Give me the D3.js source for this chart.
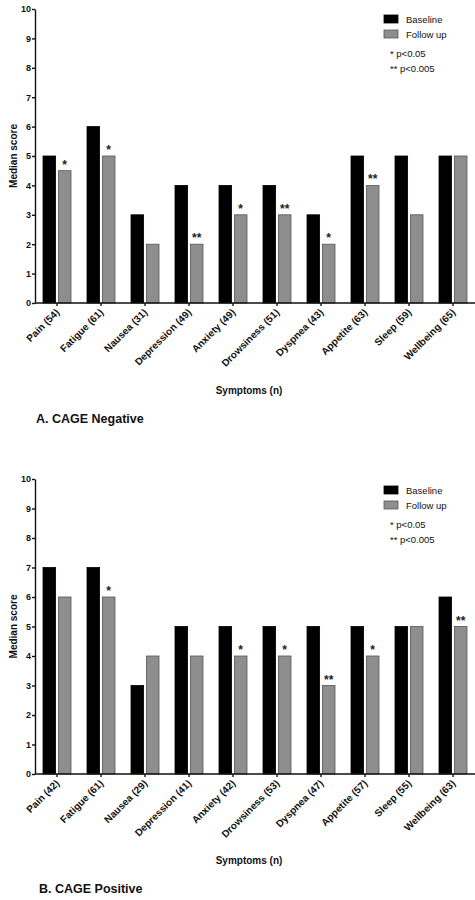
<!DOCTYPE html>
<html><head><meta charset="utf-8">
<script src="https://cdn.jsdelivr.net/npm/d3@7"></script>
<style>body{margin:0;background:#fff}svg{display:block;font-family:"Liberation Sans",Arial,sans-serif}</style>
</head><body>
<script>
const symptoms = ["Pain","Fatigue","Nausea","Depression","Anxiety","Drowsiness","Dyspnea","Appetite","Sleep","Wellbeing"];
const negN = [54,61,31,49,49,51,43,63,59,65];
const negBaseline = [5,6,3,4,4,4,3,5,5,5];
const negFollow = [4.5,5,2,2,3,3,2,4,3,5];
const negSig = ["*","*","","**","*","**","*","**","",""];
const posN = [42,61,29,41,42,53,47,57,55,63];
const posBaseline = [7,7,3,5,5,5,5,5,5,6];
const posFollow = [6,6,4,4,4,4,3,4,5,5];
const posSig = ["","*","","","*","*","**","*","","**"];
const yTicks = [0,1,2,3,4,5,6,7,8,9,10];
const seriesNames = ["Baseline","Follow up"];
const sigLegend = ["* p<0.05","** p<0.005"];

const W = 475, H = 900;
const svg = d3.select("body").append("svg").attr("width", W).attr("height", H);

function chart(top, bottom, nArr, base, foll, sig, title, legendTop, titleY, xTitleY) {
  const g = svg.append("g");
  const cats = symptoms.map((s,i) => `${s} (${nArr[i]})`);
  const x = d3.scaleBand().domain(cats).range([35, 475]).paddingInner(0).paddingOuter(0);
  const inner = d3.scaleBand().domain(seriesNames).range([8, 36]).paddingInner(0.18);
  const y = d3.scaleLinear().domain([0,10]).range([bottom, top]);

  const data = cats.map((c,i) => ({c, vals:[base[i], foll[i]], sig: sig[i]}));
  const grp = g.selectAll(".cat").data(data).join("g").attr("transform", d => `translate(${x(d.c)},0)`);
  grp.selectAll("rect").data(d => d.vals.map((v,j) => ({v, s: seriesNames[j]}))).join("rect")
    .attr("x", d => inner(d.s)).attr("width", inner.bandwidth())
    .attr("y", d => y(d.v)).attr("height", d => y(0) - y(d.v))
    .attr("fill", d => d.s === "Baseline" ? "#000" : "#8e8e8e")
    .attr("stroke", d => d.s === "Baseline" ? "#000" : "#555").attr("stroke-width", 0.8);
  grp.append("text").attr("x", inner("Follow up") + inner.bandwidth()/2)
    .attr("y", d => y(d.vals[1]) - 2).attr("text-anchor","middle")
    .attr("font-size", 12).attr("font-weight","bold").attr("fill","#222")
    .text(d => d.sig);

  const ya = g.append("g").attr("transform", `translate(35,0)`)
    .call(d3.axisLeft(y).tickValues(yTicks).tickSize(3).tickSizeOuter(0).tickPadding(1).tickFormat(d3.format("d")));
  ya.selectAll("text").attr("font-size", 9).attr("font-weight","bold").attr("fill","#111").attr("font-family","Liberation Sans, Arial");
  ya.selectAll("line,path").attr("stroke","#111").attr("stroke-width",1.4);

  const xa = g.append("g").attr("transform", `translate(0,${bottom})`)
    .call(d3.axisBottom(x).tickSize(3).tickSizeOuter(0));
  xa.select("path").attr("d", `M35,0H475`);
  xa.selectAll("line,path").attr("stroke","#111").attr("stroke-width",1.4);
  xa.selectAll("text").attr("font-size", 10).attr("font-weight","bold").attr("fill","#111")
    .attr("font-family","Liberation Sans, Arial")
    .attr("text-anchor","end").attr("dy", null).attr("y", null)
    .attr("transform","translate(3,10) rotate(-45)");

  g.append("text").attr("transform", `translate(17,${(top+bottom)/2}) rotate(-90)`)
    .attr("text-anchor","middle").attr("font-size",10).attr("font-weight","bold").attr("fill","#111").text("Median score");
  g.append("text").attr("x", 249).attr("y", xTitleY).attr("text-anchor","middle")
    .attr("font-size",10).attr("font-weight","bold").attr("fill","#111").text("Symptoms (n)");
  g.append("text").attr("x", title.x).attr("y", titleY)
    .attr("font-size",12.5).attr("font-weight","bold").attr("fill","#111").text(title.t);

  const lg = g.append("g").attr("transform", `translate(384,${legendTop})`);
  seriesNames.forEach((s,i) => {
    lg.append("rect").attr("x",0).attr("y", i*15).attr("width",14).attr("height",8)
      .attr("fill", i===0 ? "#000" : "#8e8e8e").attr("stroke", i===0 ? "#000":"#555").attr("stroke-width",0.8);
    lg.append("text").attr("x",22).attr("y", i*15+8).attr("font-size",9.5).attr("fill","#111").text(s);
  });
  sigLegend.forEach((s,i) => {
    lg.append("text").attr("x",6).attr("y", 42 + i*15).attr("font-size",9.5).attr("fill","#111").text(s);
  });
}

chart(9, 303, negN, negBaseline, negFollow, negSig, {t:"A. CAGE Negative", x:36}, 15, 423, 394);
chart(479, 774, posN, posBaseline, posFollow, posSig, {t:"B. CAGE Positive", x:39}, 486, 893, 864);
</script>
</body></html>
